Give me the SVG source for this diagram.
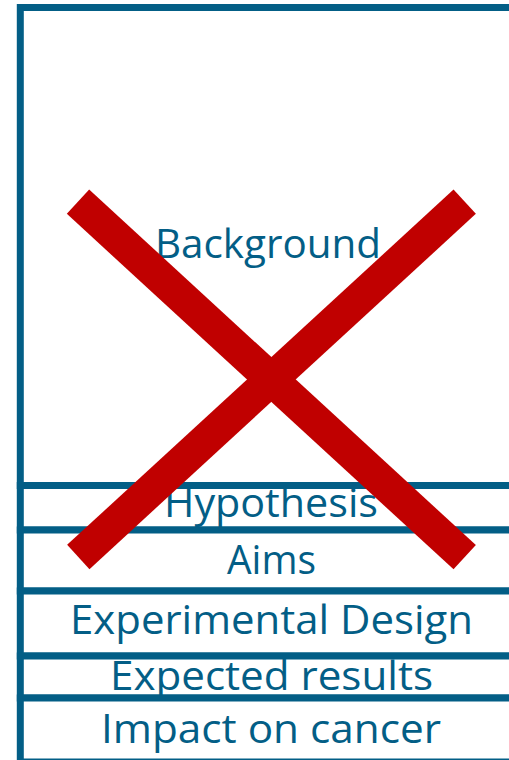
<svg xmlns="http://www.w3.org/2000/svg" width="509" height="760" viewBox="0 0 509 760">
  <style>
    .box { fill: #ffffff; stroke: #035e86; stroke-width: 7; }
    .lbl { font-family: "Open Sans", "Noto Sans", sans-serif; font-size: 40px; fill: #035e86; text-anchor: middle; }
    .cross { stroke: #c00000; stroke-width: 33; stroke-linecap: butt; fill: none; }
  </style>
  <rect x="0" y="0" width="509" height="760" fill="#ffffff"/>
  <g id="background">
    <rect class="box" x="20.3" y="7.5" width="502" height="478"/>
    <text class="lbl" x="268" y="258" textLength="226" lengthAdjust="spacingAndGlyphs">Background</text>
  </g>
  <g id="hypothesis">
    <rect class="box" x="20.3" y="485.5" width="502" height="44.5"/>
    <text class="lbl" x="271" y="517" textLength="214" lengthAdjust="spacingAndGlyphs">Hypothesis</text>
  </g>
  <g id="aims">
    <rect class="box" x="20.3" y="530" width="502" height="61"/>
    <text class="lbl" x="271.5" y="574" textLength="89" lengthAdjust="spacingAndGlyphs">Aims</text>
  </g>
  <g id="experimental-design">
    <rect class="box" x="20.3" y="591" width="502" height="65"/>
    <text class="lbl" x="271.5" y="634" textLength="403" lengthAdjust="spacingAndGlyphs">Experimental Design</text>
  </g>
  <g id="expected-results">
    <rect class="box" x="20.3" y="656" width="502" height="42"/>
    <text class="lbl" x="271.5" y="690" textLength="323" lengthAdjust="spacingAndGlyphs">Expected results</text>
  </g>
  <g id="impact-on-cancer">
    <rect class="box" x="20.3" y="698" width="502" height="64"/>
    <text class="lbl" x="271" y="743" textLength="340" lengthAdjust="spacingAndGlyphs">Impact on cancer</text>
  </g>
  <g id="connectors">
    <line class="cross" x1="78" y1="201.7" x2="464.7" y2="557.2"/>
    <line class="cross" x1="78.3" y1="557" x2="464.7" y2="201.7"/>
  </g>
</svg>
